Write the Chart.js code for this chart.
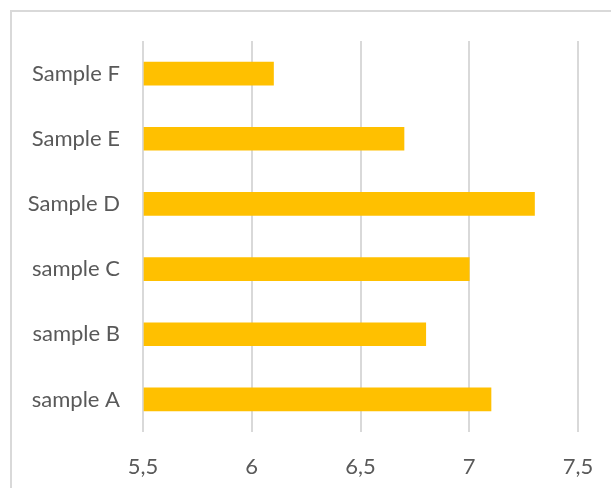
<!DOCTYPE html>
<html>
<head>
<meta charset="utf-8">
<script src="https://cdn.jsdelivr.net/npm/chart.js@4"></script>
<style>
  html, body { margin: 0; padding: 0; background: #fff; overflow: hidden; }
  #wrap { position: relative; width: 611px; height: 488px; }
  #frame {
    position: absolute; left: 10px; top: 10px; width: 620px; height: 500px;
    border: 2px solid #d9d9d9; box-sizing: border-box;
  }
  canvas { position: absolute; left: 0; top: 0; }
</style>
</head>
<body>
<div id="wrap">
  <div id="frame"></div>
  <canvas id="chart" width="611" height="488"></canvas>
</div>
<script>
// samples listed bottom to top
var categories = ['sample A', 'sample B', 'sample C', 'Sample D', 'Sample E', 'Sample F'];
var values = [7.1, 6.8, 7.0, 7.3, 6.7, 6.1];
var tickValues = [5.5, 6, 6.5, 7, 7.5];

var textColor = '#595959';
var labelFont = { family: 'Lato, "Open Sans", sans-serif', size: 22 };

var ctx = document.getElementById('chart').getContext('2d');
var chart = new Chart(ctx, {
    type: 'bar',
    data: {
        labels: categories,
        datasets: [{
            data: values,
            backgroundColor: '#ffc000',
            borderWidth: 0,
            barThickness: 23,
            base: tickValues[0]
        }]
    },
    options: {
        indexAxis: 'y',
        responsive: false,
        animation: false,
        layout: { padding: { top: 41, right: 33, left: 0, bottom: 0 } },
        plugins: {
            legend: { display: false },
            tooltip: { enabled: false }
        },
        scales: {
            x: {
                min: tickValues[0],
                max: tickValues[tickValues.length - 1],
                afterBuildTicks: function (axis) {
                    axis.ticks = tickValues.map(function (v) { return { value: v }; });
                },
                afterFit: function (axis) {
                    axis.height = 56;
                    // keep the end labels from pushing the plot edges inward
                    axis.paddingLeft = 0;
                    axis.paddingRight = 0;
                },
                grid: { color: '#d9d9d9', lineWidth: 2, drawTicks: false },
                border: { display: false },
                ticks: {
                    color: textColor,
                    font: labelFont,
                    padding: 22,
                    callback: function (v) { return String(v).replace('.', ','); }
                }
            },
            y: {
                reverse: true,
                afterFit: function (axis) { axis.width = 143; },
                grid: { display: false, drawTicks: false },
                border: { display: false },
                ticks: { color: textColor, font: labelFont, padding: 23 }
            }
        }
    }
});
</script>
</body>
</html>
